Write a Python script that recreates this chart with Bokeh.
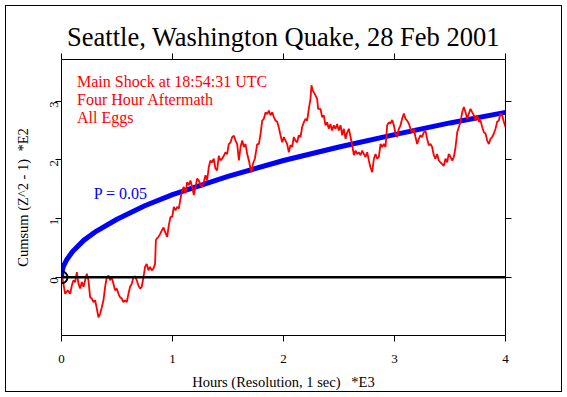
import math
from bokeh.plotting import figure
from bokeh.models import Range1d, FixedTicker, LinearAxis, Label, Span, CustomJSTickFormatter
from bokeh.embed import file_html
from bokeh.resources import INLINE

# ---- data ----
hours = [0.0, 0.009, 0.033, 0.057, 0.078, 0.093, 0.108, 0.123, 0.138, 0.153, 0.168, 0.183, 0.198, 0.213,
         0.228, 0.243, 0.258, 0.273, 0.288, 0.303, 0.318, 0.333, 0.348, 0.363, 0.378, 0.393, 0.408, 0.423,
         0.438, 0.453, 0.468, 0.483, 0.498, 0.513, 0.528, 0.543, 0.558, 0.573, 0.588, 0.603, 0.618, 0.633,
         0.648, 0.663, 0.678, 0.693, 0.708, 0.723, 0.738, 0.753, 0.768, 0.783, 0.798, 0.813, 0.828, 0.843,
         0.85, 0.858, 0.874, 0.889, 0.904, 0.919, 0.934,
         0.952, 0.967, 0.982, 0.997, 1.012, 1.027, 1.042, 1.057, 1.072, 1.087, 1.102, 1.117, 1.132, 1.147,
         1.162, 1.177, 1.192, 1.207, 1.222, 1.237, 1.252, 1.267, 1.282, 1.297, 1.312, 1.327, 1.342, 1.357,
         1.372, 1.387, 1.402, 1.417, 1.432, 1.447, 1.462, 1.477, 1.492, 1.507, 1.523, 1.538, 1.553, 1.568,
         1.583, 1.598, 1.613, 1.628, 1.643, 1.658, 1.673, 1.688, 1.703, 1.712, 1.724, 1.742, 1.763, 1.778,
         1.793, 1.808, 1.823, 1.838, 1.853, 1.868, 1.883, 1.898, 1.913, 1.928, 1.943, 1.958, 1.973,
         1.988, 2.003, 2.018, 2.033, 2.048, 2.063, 2.078, 2.093, 2.108, 2.123, 2.138, 2.153, 2.168, 2.183,
         2.198, 2.213, 2.228, 2.243, 2.252, 2.264, 2.273, 2.288, 2.303, 2.312, 2.333, 2.348, 2.363, 2.378,
         2.393, 2.408, 2.423, 2.438, 2.453, 2.468, 2.483, 2.498, 2.514, 2.529, 2.544, 2.559, 2.574, 2.589,
         2.604, 2.619, 2.634, 2.649, 2.664, 2.679, 2.694, 2.709, 2.724, 2.739, 2.754, 2.769, 2.784, 2.799,
         2.814, 2.829, 2.844, 2.859, 2.874, 2.889, 2.904, 2.919, 2.934, 2.949,
         2.964, 2.979, 2.994, 3.009, 3.024, 3.039, 3.054, 3.069, 3.084, 3.099, 3.114, 3.129, 3.144, 3.159,
         3.174, 3.189, 3.204, 3.219, 3.234, 3.249, 3.264, 3.279, 3.294, 3.309, 3.324, 3.339, 3.354, 3.369,
         3.384, 3.399, 3.414, 3.429, 3.444, 3.459, 3.474, 3.489, 3.505, 3.52, 3.535, 3.55, 3.565, 3.58,
         3.595, 3.61, 3.625, 3.64, 3.655, 3.67, 3.685, 3.7, 3.715, 3.73, 3.745, 3.76, 3.775, 3.79, 3.805,
         3.82, 3.835, 3.85, 3.865, 3.88, 3.895, 3.91, 3.925, 3.94, 3.955, 3.97, 3.985, 4.0]
cumsum = [0.0, -0.02, -0.28, -0.22, -0.28, -0.14, -0.05, -0.08, 0.09, -0.11, -0.19, -0.08, -0.16, -0.05,
          0.06, -0.05, -0.34, -0.36, -0.42, -0.39, -0.53, -0.68, -0.62, -0.51, -0.39, -0.16, 0.0, 0.03,
          -0.05, 0.0, -0.11, -0.22, -0.19, -0.28, -0.34, -0.36, -0.42, -0.39, -0.42, -0.28, -0.16, -0.11,
          0.0, 0.02, -0.05, -0.14, -0.19, -0.16, 0.0, 0.18, 0.23, 0.12, 0.18, 0.12, 0.15, 0.23,
          0.63, 0.66, 0.69, 0.74, 0.80, 0.85, 0.77,
          0.69, 0.89, 1.03, 1.03, 1.2, 1.14, 1.2, 1.17, 1.34, 1.48, 1.54, 1.43, 1.62, 1.57,
          1.65, 1.54, 1.40, 1.54, 1.68, 1.65, 1.57, 1.54, 1.62, 1.74, 1.65, 1.88, 1.99, 1.96,
          2.02, 1.85, 1.82, 2.07, 1.99, 2.02, 2.07, 2.13, 2.1, 2.27, 2.3, 2.39, 2.41, 2.33,
          2.27, 1.99, 2.22, 2.33, 2.22, 2.27, 2.1, 1.99, 1.85, 1.79, 1.93, 2.02, 2.27, 2.27,
          2.44, 2.67, 2.7, 2.81, 2.78, 2.84, 2.76, 2.81, 2.73, 2.67, 2.65, 2.55, 2.42,
          2.3, 2.39, 2.33, 2.27, 2.13, 2.25, 2.22, 2.39, 2.33, 2.3, 2.42, 2.39, 2.56, 2.64,
          2.7, 2.67, 2.87, 3.04, 3.27, 3.18, 3.15, 3.1, 3.04, 2.87, 2.87, 2.73, 2.76, 2.59,
          2.64, 2.53, 2.61, 2.5, 2.59, 2.53, 2.61, 2.5, 2.59, 2.42, 2.53, 2.36, 2.47, 2.53,
          2.39, 2.25, 2.08, 2.16, 2.1, 2.13, 2.08, 2.16, 2.1, 2.05, 2.13, 1.99, 1.87, 1.79,
          2.02, 2.1, 2.02, 2.05, 2.27, 2.22, 2.27, 2.22, 2.59, 2.64,
          2.62, 2.68, 2.59, 2.45, 2.39, 2.53, 2.59, 2.7, 2.79, 2.7, 2.67, 2.62, 2.53, 2.47,
          2.53, 2.39, 2.27, 2.36, 2.42, 2.39, 2.47, 2.5, 2.36, 2.25, 2.27, 2.22, 2.08, 2.02,
          2.1, 1.99, 1.96, 1.93, 1.9, 2.02, 1.96, 2.1, 2.05, 1.99, 2.05, 2.22, 2.47, 2.56,
          2.65, 2.81, 2.9, 2.81, 2.7, 2.79, 2.87, 2.81, 2.76, 2.67, 2.76, 2.65, 2.67, 2.56, 2.47,
          2.45, 2.33, 2.27, 2.36, 2.39, 2.45, 2.53, 2.65, 2.67, 2.79, 2.76, 2.65, 2.56]

env_hours = [0.0, 0.005, 0.01, 0.02, 0.05, 0.1, 0.2, 0.3, 0.5, 0.75, 1.0, 1.5, 2.0, 2.5, 3.0, 3.5, 4.0]
env_p05 = [0.0, 0.10, 0.14, 0.20, 0.31, 0.44, 0.63, 0.77, 0.99, 1.22, 1.41, 1.72, 1.99, 2.22, 2.43, 2.63, 2.81]

x_ticks = [0, 1, 2, 3, 4]
y_ticks = [0, 1, 2, 3]

title_text = "Seattle, Washington Quake, 28 Feb 2001"
notes = ["Main Shock at 18:54:31 UTC", "Four Hour Aftermath", "All Eggs"]
p_label = "P = 0.05"
x_title = "Hours (Resolution, 1 sec)\u00a0\u00a0\u00a0*E3"
y_title = "Cumsum (Z^2 - 1)\u00a0\u00a0*E2"

FONT = "Liberation Serif"

p = figure(width=567, height=397, output_backend="svg", toolbar_location=None,
           x_range=Range1d(0, 4), y_range=Range1d(-0.99, 3.71),
           min_border_left=61, min_border_right=62, min_border_top=59, min_border_bottom=62,
           title=title_text)
# outer page frame drawn by CSS on the figure element (canvas border left transparent)
p.styles = {"outline": "1.5px solid black", "outline-offset": "-6px"}
p.outline_line_color = None
p.background_fill_color = "white"
p.border_fill_color = None
p.xgrid.visible = False
p.ygrid.visible = False

p.title.text_font = FONT
p.title.text_font_size = "26.5px"
p.title.text_font_style = "normal"
p.title.align = "center"
p.title.text_color = "black"
p.title.standoff = 4

def style_axis(ax, ticks, show_labels):
    ax.ticker = FixedTicker(ticks=ticks)
    ax.minor_tick_line_color = None
    ax.major_tick_in = 0
    ax.major_tick_out = 6
    ax.axis_line_color = "black"
    ax.major_tick_line_color = "black"
    ax.axis_line_width = 1
    ax.major_tick_line_width = 1
    ax.major_label_text_font = FONT
    ax.major_label_text_color = "black"
    ax.axis_label_text_font = FONT
    ax.axis_label_text_font_style = "normal"
    ax.axis_label_text_color = "black"
    if show_labels:
        ax.major_label_text_font_size = "13px"
        ax.axis_label_text_font_size = "14.5px"
    else:
        ax.formatter = CustomJSTickFormatter(code="return '';")
        ax.major_label_standoff = 0

xa = p.xaxis[0]
style_axis(xa, x_ticks, True)
xa.axis_label = x_title
xa.major_label_standoff = 13
xa.axis_label_standoff = 8

ya = p.yaxis[0]
style_axis(ya, y_ticks, True)
ya.axis_label = y_title
ya.major_label_orientation = math.pi / 2
ya.major_label_standoff = 1
ya.axis_label_standoff = 13

top = LinearAxis()
style_axis(top, x_ticks, False)
p.add_layout(top, "above")
right = LinearAxis()
style_axis(right, y_ticks, False)
p.add_layout(right, "right")

# zero line
p.add_layout(Span(location=0, dimension="width", line_color="black", line_width=2.5))

# P = 0.05 envelope
p.line(env_hours, env_p05, line_color="#0000ff", line_width=5)

# data
p.line(hours, cumsum, line_color="#ff0000", line_width=1.8)

# small arc at origin (drawn on top)
p.arc(x=[0], y=[0], radius=6, radius_units="screen", start_angle=-math.pi / 2,
      end_angle=math.pi / 2, line_color="black", line_width=2)

# annotations
for txt, yv in zip(notes, [3.34, 3.03, 2.73]):
    p.add_layout(Label(x=0.14, y=yv, text=txt, text_font=FONT, text_font_size="16px",
                       text_color="#ff0000", text_baseline="alphabetic"))
p.add_layout(Label(x=0.29, y=1.42, text=p_label, text_font=FONT, text_font_size="16px",
                   text_color="#0000ff", text_baseline="alphabetic"))

open("out.html", "w").write(file_html(p, INLINE))
